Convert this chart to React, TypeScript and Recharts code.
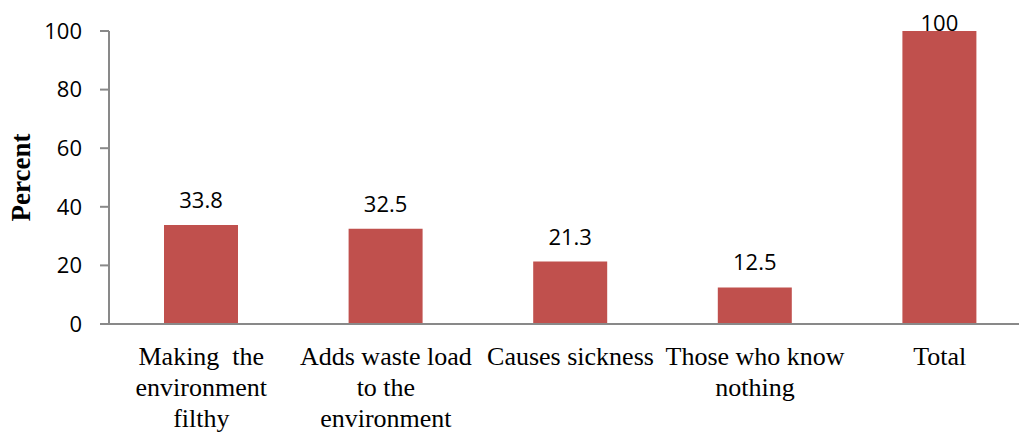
import { Bar, BarChart, LabelList, XAxis, YAxis, Label } from 'recharts'

// Categories, wrapped the same way as the reference
const categories = [
  ['Making  the', 'environment', 'filthy'],
  ['Adds waste load', 'to the', 'environment'],
  ['Causes sickness'],
  ['Those who know', 'nothing'],
  ['Total'],
]
const percents = [33.8, 32.5, 21.3, 12.5, 100]
const yTicks = [0, 20, 40, 60, 80, 100]

const data = categories.map((lines, i) => ({ name: lines.join(' '), lines, value: percents[i] }))

const TOP = 31
const AXIS_GREY = '#898989'

function CategoryTick(props: any) {
  const { x, y, payload, index } = props
  const lines = categories[index] ?? [payload.value]
  return (
    <text x={x} y={y} textAnchor='middle' fontFamily='"Liberation Serif", "Times New Roman", serif' fontSize={26} fill='#000'>
      {lines.map((l: string, i: number) => (
        <tspan key={i} x={x} y={y + 33 + i * 31} style={{ whiteSpace: 'pre' }}>
          {l}
        </tspan>
      ))}
    </text>
  )
}

function ValueLabel(props: any) {
  const { x, y, width, value } = props
  const baseline = Math.max(y - 17, TOP)
  return (
    <text x={x + width / 2} y={baseline} textAnchor='middle' fontFamily='"Open Sans", sans-serif' fontSize={22} fill='#000'>
      {value}
    </text>
  )
}

export default function App() {
  return (
    <div style={{ position: 'absolute', left: 0, top: 0, width: 1019, height: 432, overflow: 'hidden', background: '#fff' }}>
      <BarChart width={1040} height={432} data={data} margin={{ top: TOP, right: 8, bottom: 0, left: 0 }} barSize={74}>
        <XAxis
          dataKey='name'
          axisLine={{ stroke: AXIS_GREY, strokeWidth: 2 }}
          tickLine={false}
          tick={<CategoryTick />}
          interval={0}
          height={108}
        />
        <YAxis
          domain={[0, 100]}
          ticks={yTicks}
          width={109}
          axisLine={{ stroke: AXIS_GREY, strokeWidth: 2 }}
          tickLine={{ stroke: AXIS_GREY, strokeWidth: 2 }}
          tickSize={9}
          tickMargin={18}
          tick={{ fill: '#000', fontSize: 22, fontFamily: '"Open Sans", sans-serif' }}
        >
          <Label
            content={() => (
              <text
                x={21}
                y={177.5}
                transform='rotate(-90 21 177.5)'
                textAnchor='middle'
                dominantBaseline='central'
                fontFamily='"Liberation Serif", "Times New Roman", serif'
                fontWeight='bold'
                fontSize={27}
                fill='#000'
              >
                Percent
              </text>
            )}
          />
        </YAxis>
        <Bar dataKey='value' fill='#C0504D' isAnimationActive={false}>
          <LabelList dataKey='value' content={<ValueLabel />} />
        </Bar>
      </BarChart>
    </div>
  )
}
